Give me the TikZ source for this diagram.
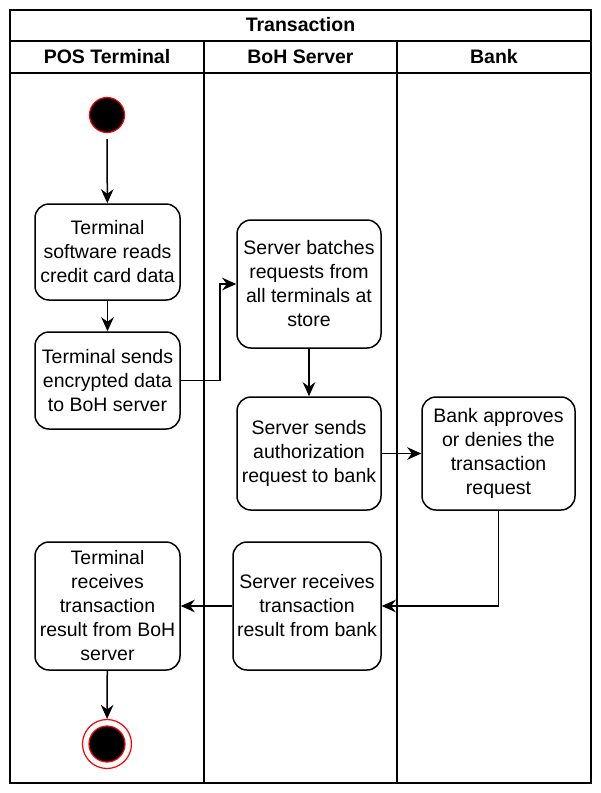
\documentclass[tikz,border=0pt]{standalone}
\usepackage{fontspec}
\setmainfont{Liberation Sans}
\usetikzlibrary{arrows.meta}
\begin{document}
\begin{tikzpicture}[x=1pt,y=-1pt,
  act/.style={draw=black,line width=1.5pt,rounded corners=14pt,align=center,font=\fontsize{19.5}{24}\selectfont,inner sep=0pt},
  conn/.style={draw=black,line width=1.5pt,-{Stealth[length=14pt,width=12.5pt,inset=4.5pt]}},
  lane/.style={draw=black,line width=1.7pt},
  hdr/.style={font=\fontsize{19.5}{22}\selectfont\bfseries}]
\useasboundingbox (0,0) rectangle (601,793);
% frame
\draw[lane] (10,10) rectangle (591,783);
\draw[lane] (10,41) -- (591,41);
\draw[lane] (10,73) -- (591,73);
\draw[lane] (204,41) -- (204,783);
\draw[lane] (397,41) -- (397,783);
\node[hdr] (title) at (300.5,25) {Transaction};
\node[hdr] (h1) at (107,57) {POS Terminal};
\node[hdr] (h2) at (300.5,57) {BoH Server};
\node[hdr] (h3) at (494,57) {Bank};
% start
\node[circle,fill=black,draw=red,line width=1.2pt,minimum size=35pt,inner sep=0pt] (start) at (107,115) {};
% boxes
\node[act,minimum width=145pt,minimum height=96pt] (b1) at (107.5,252) {Terminal\\software reads\\credit card data};
\node[act,minimum width=145pt,minimum height=97pt] (b2) at (107.5,380.5) {Terminal sends\\encrypted data\\to BoH server};
\node[act,minimum width=144pt,minimum height=128pt] (b3) at (309,284) {Server batches\\requests from\\all terminals at\\store};
\node[act,minimum width=144pt,minimum height=113pt] (b4) at (309,453.5) {Server sends\\authorization\\request to bank};
\node[act,minimum width=153pt,minimum height=113pt] (b5) at (498.5,453.5) {Bank approves\\or denies the\\transaction\\request};
\node[act,minimum width=148pt,minimum height=128pt] (b6) at (307,606) {Server receives\\transaction\\result from bank};
\node[act,minimum width=145pt,minimum height=128pt] (b7) at (107.5,606) {Terminal\\receives\\transaction\\result from BoH\\server};
% end
\node[circle,draw=red,fill=white,line width=1.2pt,minimum size=49pt,inner sep=0pt] (endo) at (107,744) {};
\node[circle,fill=black,draw=red,line width=1.2pt,minimum size=36pt,inner sep=0pt] (endi) at (107,744) {};
% connectors
\draw[conn,shorten <=6pt] (start) -- (b1);
\draw[conn] (b1) -- (b2);
\coordinate (k1) at (220,380.5);
\coordinate (k2) at (220,284);
\draw[conn] (b2.east) -- (k1) -- (k2) -- (b3.west);
\draw[conn] (b3) -- (b4);
\draw[conn] (b4) -- (b5);
\coordinate (k3) at (498.5,606);
\draw[conn] (b5.south) -- (k3) -- (b6.east);
\draw[conn] (b6) -- (b7);
\draw[conn] (b7) -- (endo);
\end{tikzpicture}
\end{document}
